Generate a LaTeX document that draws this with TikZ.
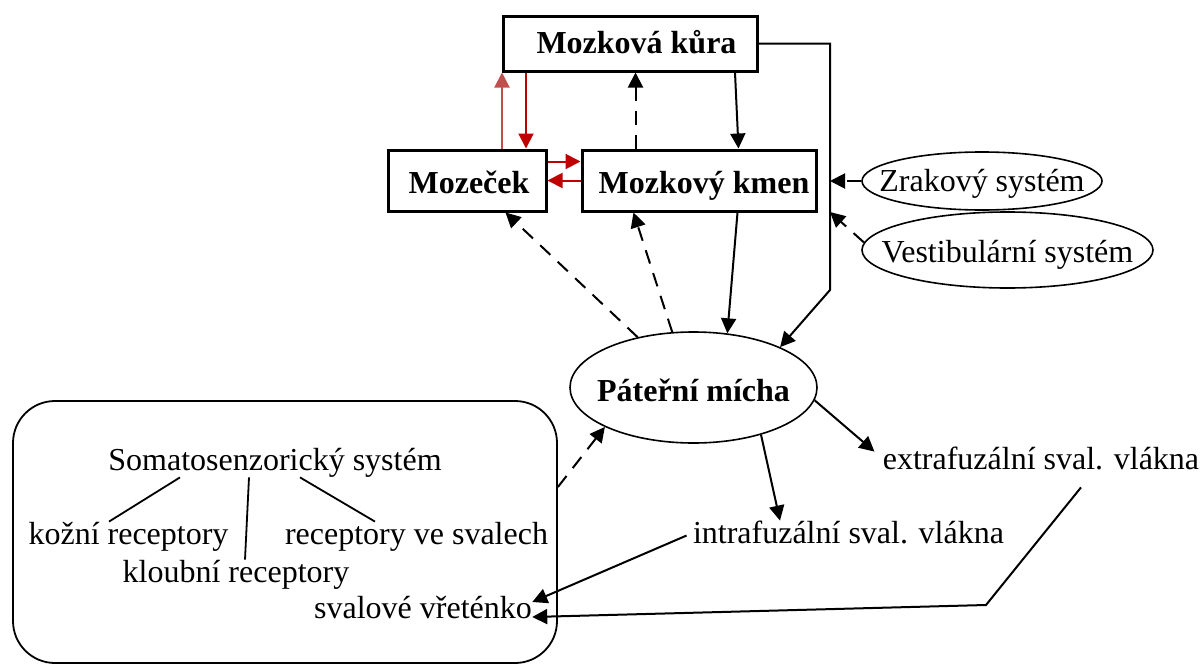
\documentclass[tikz,border=0pt]{standalone}
\usepackage{fontspec}
\setmainfont{Liberation Serif}
\usetikzlibrary{arrows.meta,shapes.geometric,calc}
\definecolor{redd}{HTML}{C00000}
\definecolor{redl}{HTML}{C0504D}
\begin{document}
\begin{tikzpicture}[x=0.5pt,y=-0.5pt,
  font=\fontsize{16}{19}\selectfont,
  box/.style={draw,line width=1.5pt,inner sep=0pt,font=\fontsize{16}{19}\selectfont\bfseries},
  oval/.style={draw,ellipse,line width=0.8pt,inner sep=0pt},
  lbl/.style={inner sep=0pt,anchor=base,text height=11pt,text depth=3.5pt},
  conn/.style={line width=1pt,-{Triangle[length=7.5pt,width=7.5pt]}},
  dconn/.style={conn,dash pattern=on 7pt off 5pt},
  plain/.style={line width=0.9pt}]
\useasboundingbox (0,0) rectangle (1200,664);
% boxes
\node[box,minimum width=127pt,minimum height=27.5pt,text height=11pt,text depth=0.5pt] (kura) at (630.5,43.5) {\hspace*{6pt}Mozková kůra};
\node[box,minimum width=79pt,minimum height=30.5pt,text height=13pt,text depth=0.5pt] (mozecek) at (467,180.5) {\hspace*{2pt}Mozeček};
\node[box,minimum width=117pt,minimum height=30.5pt,text height=13pt,text depth=0.5pt] (kmen) at (699,180.5) {\hspace*{5pt}Mozkový kmen};
% ellipses
\node[oval,minimum width=120pt,minimum height=29pt,text height=11pt,text depth=1pt] (zrak) at (982,181) {\makebox[0pt]{Zrakový systém}};
\node[oval,minimum width=145.5pt,minimum height=38pt,text height=12.5pt,text depth=0.5pt] (vest) at (1007.5,250) {\makebox[0pt]{Vestibulární systém}};
\node[oval,minimum width=123.5pt,minimum height=55.5pt,text height=14pt,text depth=0.5pt,font=\fontsize{16}{19}\selectfont\bfseries] (mich) at (693.5,387.5) {\makebox[0pt]{Páteřní mícha}};
% somatosensory box
\node[draw,rounded corners=21pt,line width=0.9pt,minimum width=272pt,minimum height=131pt,inner sep=0pt] (sbox) at (285,532) {};
\node[lbl] (somat) at (275,470) {Somatosenzorický systém};
\node[lbl] (kozni) at (128.5,544) {kožní receptory};
\node[lbl] (svalech) at (416.5,544) {receptory ve svalech};
\node[lbl] (kloub) at (236,582) {kloubní receptory};
\node[lbl] (vreten) at (423,618) {svalové vřeténko};
\node[lbl] (extra) at (1041,469) {extrafuzální sval. vlákna};
\node[lbl] (intra) at (848.5,543) {intrafuzální sval. vlákna};
% helper coordinates
\coordinate (a1) at ([xshift=12pt]kura.south west);
\coordinate (r1) at ([yshift=-6.5pt]mozecek.north east);
\coordinate (d1) at ([xshift=27.5pt]kmen.north west);
\coordinate (bend1) at (830,290);
\coordinate (vtip) at (830,212);
\coordinate (bend2) at (986,605);
% red connectors
\draw[conn,redl] (kura.south west |- mozecek.north) -- (kura.south west);
\draw[conn,redd] (a1) -- (a1 |- mozecek.north);
\draw[conn,redd] (r1) -- (r1 -| kmen.west);
\draw[conn,redd] (kmen.west) -- (kmen.west -| mozecek.east);
% black connectors
\draw[dconn] (d1) -- (d1 |- kura.south);
\draw[conn] ([xshift=116.5pt]kura.south west) -- ([xshift=79pt]kmen.north west);
\draw[conn] (kura.east) -- (kura.east -| bend1) -- (bend1) -- (mich.25);
\draw[dconn] (zrak.west) -- (zrak.west -| bend1);
\draw[dconn] (vest.177) -- (vtip);
\draw[dconn] (mich.138) -- ([xshift=59.5pt]mozecek.south west);
\draw[dconn] (mich.111) -- ([xshift=26.5pt]kmen.south west);
\draw[conn] ([xshift=78.5pt]kmen.south west) -- (mich.58);
\draw[dconn] ([yshift=22.5pt]sbox.east) -- (mich.204);
\draw[conn] (mich.325) -- ([xshift=-34.25pt]intra.north);
\draw[conn] (mich.354) -- ([xshift=-4pt,yshift=-2.5pt]extra.north west);
\draw[conn] ([xshift=-3pt]intra.west) -- ([yshift=4.25pt]vreten.east);
\draw[conn] ([xshift=20pt,yshift=-5.5pt]extra.south) -- (bend2) -- ([yshift=-3.25pt]vreten.east);
% somatosensory tree
\draw[plain] ([xshift=-47.5pt]somat.south) -- ([xshift=-9.75pt]kozni.north);
\draw[plain] ([xshift=-13pt]somat.south) -- ([xshift=4.5pt]kloub.north);
\draw[plain] ([xshift=12.5pt]somat.south) -- ([xshift=-20.75pt]svalech.north);
\end{tikzpicture}
\end{document}
